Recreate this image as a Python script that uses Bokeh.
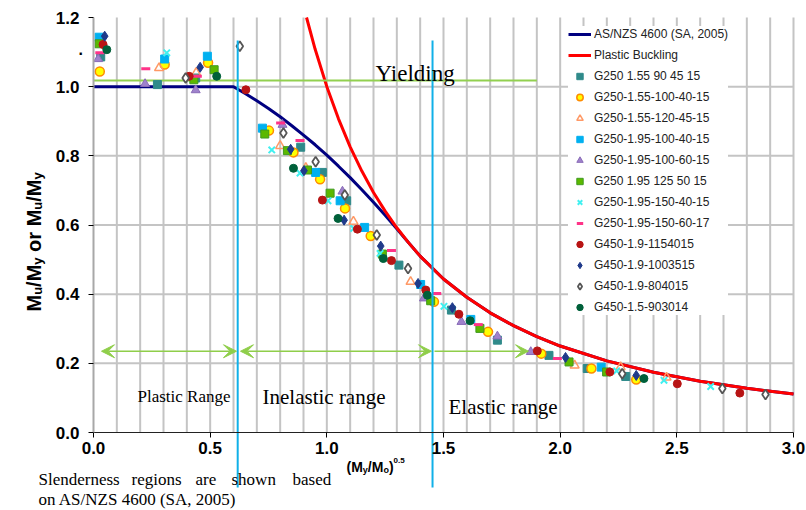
import math
from bokeh.plotting import figure
from bokeh.models import Range1d, FixedTicker, Label, Arrow, VeeHead, NumeralTickFormatter
from bokeh.embed import file_html
from bokeh.resources import INLINE

# ---------------- data ----------------
asnzs_x = [0.0, 0.6, 0.65, 0.7, 0.75, 0.8, 0.85, 0.9, 0.95, 1.0, 1.05, 1.1, 1.15, 1.2, 1.25, 1.3, 1.336,
           1.4, 1.5, 1.6, 1.7, 1.8, 1.9, 2.0, 2.2, 2.4, 2.6, 2.8, 3.0]
asnzs_y = [1.0, 1.0, 0.980, 0.959, 0.937, 0.913, 0.887, 0.860, 0.832, 0.802, 0.770, 0.737, 0.702, 0.666, 0.628, 0.589, 0.560,
           0.510, 0.444, 0.391, 0.346, 0.309, 0.277, 0.250, 0.207, 0.174, 0.148, 0.128, 0.111]

buck_x = [0.913, 0.95, 1.0, 1.05, 1.1, 1.15, 1.2, 1.25, 1.3, 1.35, 1.4, 1.5, 1.6, 1.7, 1.8, 1.9, 2.0, 2.2, 2.4, 2.6, 2.8, 3.0]
buck_y = [1.200, 1.108, 1.000, 0.907, 0.826, 0.756, 0.694, 0.640, 0.592, 0.549, 0.510, 0.444, 0.391, 0.346, 0.309, 0.277,
          0.250, 0.207, 0.174, 0.148, 0.128, 0.111]

yield_x = [0.0, 1.9]
yield_y = [1.018, 1.018]

region_bounds = [0.618, 1.453]

s1_x = [0.031, 0.274, 0.438, 0.888, 0.981, 1.085, 1.309, 1.534, 1.731, 1.952, 2.116, 2.281]
s1_y = [1.086, 1.006, 1.025, 0.825, 0.752, 0.670, 0.484, 0.354, 0.267, 0.223, 0.185, 0.162]
s2_x = [0.027, 0.305, 0.491, 0.752, 0.857, 0.971, 1.078, 1.188, 1.459, 1.691, 1.919, 2.134, 2.326]
s2_y = [1.044, 1.064, 1.069, 0.873, 0.810, 0.732, 0.648, 0.568, 0.378, 0.291, 0.228, 0.185, 0.153]
s3_x = [0.281, 0.440, 0.800, 0.910, 1.114, 1.359, 2.062, 2.259, 2.456]
s3_y = [1.054, 1.040, 0.829, 0.765, 0.610, 0.436, 0.194, 0.189, 0.159]
s4_x = [0.024, 0.305, 0.488, 0.724, 0.952, 1.057, 1.162, 1.402, 1.617, 2.176]
s4_y = [1.143, 1.080, 1.088, 0.880, 0.752, 0.670, 0.593, 0.428, 0.327, 0.189]
s5_x = [0.020, 0.221, 0.438, 0.810, 1.067, 1.416, 1.577, 1.731, 1.874]
s5_y = [1.080, 1.008, 0.990, 0.890, 0.697, 0.388, 0.320, 0.278, 0.233]
s6_x = [0.024, 0.430, 0.517, 0.734, 0.831, 0.917, 1.014, 1.238, 1.445, 1.656, 2.038, 2.199]
s6_y = [1.124, 1.020, 1.049, 0.863, 0.815, 0.759, 0.692, 0.516, 0.381, 0.301, 0.204, 0.175]
s7_x = [0.314, 0.764, 0.885, 1.005, 1.115, 1.228, 1.502, 2.242, 2.445, 2.645]
s7_y = [1.098, 0.817, 0.750, 0.670, 0.590, 0.518, 0.365, 0.178, 0.151, 0.133]
s8_x = [0.027, 0.224, 0.445, 0.802, 0.885, 1.277, 1.471, 1.649, 1.988]
s8_y = [1.098, 1.052, 1.030, 0.895, 0.844, 0.526, 0.402, 0.312, 0.214]
s9_x = [0.041, 0.410, 0.653, 0.981, 1.131, 1.277, 1.424, 1.566, 1.902, 2.213, 2.502, 2.770]
s9_y = [1.122, 1.030, 0.991, 0.672, 0.588, 0.497, 0.412, 0.342, 0.236, 0.175, 0.141, 0.114]
s10_x = [0.048, 0.457, 0.845, 0.902, 1.074, 1.231, 1.391, 1.538, 2.023, 2.326]
s10_y = [1.146, 1.056, 0.819, 0.757, 0.614, 0.539, 0.431, 0.361, 0.217, 0.165]
s11_x = [0.395, 0.627, 0.814, 0.952, 1.077, 1.214, 1.348, 2.266, 2.695, 2.880]
s11_y = [1.025, 1.117, 0.866, 0.783, 0.687, 0.571, 0.474, 0.170, 0.127, 0.110]
s12_x = [0.057, 0.528, 0.857, 1.048, 1.242, 1.431, 1.614, 2.359]
s12_y = [1.107, 1.030, 0.764, 0.619, 0.503, 0.397, 0.323, 0.156]

series_names = ["G250 1.55 90 45 15", "G250-1.55-100-40-15", "G250-1.55-120-45-15", "G250-1.95-100-40-15",
                "G250-1.95-100-60-15", "G250 1.95 125 50 15", "G250-1.95-150-40-15", "G250-1.95-150-60-17",
                "G450-1.9-1154015", "G450-1.9-1003515", "G450-1.9-804015", "G450-1.5-903014"]

x_ticks = [0.0, 0.5, 1.0, 1.5, 2.0, 2.5, 3.0]
y_ticks = [0.0, 0.2, 0.4, 0.6, 0.8, 1.0, 1.2]
x_grid = [round(0.1 * i, 1) for i in range(1, 31)]
y_grid = [0.2, 0.4, 0.6, 0.8, 1.0]

# ---------------- figure ----------------
W, H = 806, 510
FL, FR, FT, FB = 93, 793, 17, 432   # data area edges in picture pixels
XMAX, YMAX = 3.0, 1.2

def dx(px):
    return (px - FL) / (FR - FL) * XMAX

def dy(py):
    return (FB - py) / (FB - FT) * YMAX

p = figure(width=W, height=H, x_range=Range1d(dx(0), dx(W)), y_range=Range1d(dy(H), dy(0)),
           min_border=0, output_backend="svg", toolbar_location=None)
p.outline_line_color = None
p.background_fill_color = "white"
p.border_fill_color = "white"
p.xgrid.visible = False
p.ygrid.visible = False

# grid lines limited to the data area
grid_col = "#c4c4c4"
p.segment(x0=x_grid, y0=[0.0] * len(x_grid), x1=x_grid, y1=[YMAX] * len(x_grid), line_color=grid_col, line_width=2)
p.segment(x0=[0.0] * len(y_grid), y0=y_grid, x1=[XMAX] * len(y_grid), y1=y_grid, line_color=grid_col, line_width=2)

p.xaxis.fixed_location = 0.0
p.yaxis.fixed_location = 0.0
p.xaxis.bounds = (0.0, XMAX)
p.yaxis.bounds = (0.0, YMAX)
p.xaxis.ticker = FixedTicker(ticks=x_ticks)
p.yaxis.ticker = FixedTicker(ticks=y_ticks)
p.xaxis.formatter = NumeralTickFormatter(format="0.0")
p.yaxis.formatter = NumeralTickFormatter(format="0.0")
for ax in (p.xaxis, p.yaxis):
    ax.major_label_text_font = "Liberation Sans"
    ax.major_label_text_font_style = "bold"
    ax.major_label_text_font_size = "17px"
    ax.major_label_text_color = "black"
    ax.major_tick_in = 0
    ax.major_tick_out = 5
    ax.major_tick_line_color = "black"
    ax.minor_tick_line_color = None
p.xaxis.axis_line_color = "#222222"
p.yaxis.axis_line_color = "#a8a8a8"
p.yaxis.axis_line_width = 2
p.xaxis.major_label_standoff = 4
p.yaxis.major_label_standoff = 9

# ---------------- lines ----------------
p.line(asnzs_x, asnzs_y, line_color="#000080", line_width=3, legend_label="AS/NZS 4600 (SA, 2005)")
p.line(buck_x, buck_y, line_color="#ff0000", line_width=3, legend_label="Plastic Buckling")
p.line(yield_x, yield_y, line_color="#92d050", line_width=2)

# ---------------- scatter series ----------------
styles = [
    dict(marker="square", size=8, fill_color="#2f8a8a", line_color="#2f8a8a"),
    dict(marker="circle", size=9, fill_color="#ffff00", line_color="#ff8c00", line_width=1.5),
    dict(marker="triangle", size=9, fill_color=None, line_color="#ff9966", line_width=1.5),
    dict(marker="square", size=8, fill_color="#00b0f0", line_color="#00b0f0"),
    dict(marker="triangle", size=9, fill_color="#9f82cc", line_color="#8a6cb8"),
    dict(marker="square", size=8, fill_color="#5cb800", line_color="#3f9a20"),
    dict(marker="x", size=9, line_color="#40f0f0", line_width=2),
    dict(marker="dash", size=9, line_color="#ff3388", line_width=3),
    dict(marker="circle", size=8, fill_color="#b81414", line_color="#b81414"),
    dict(marker="diamond", size=10, fill_color="#1f3a8a", line_color="#1f3a8a"),
    dict(marker="diamond", size=10, fill_color="white", line_color="#555555", line_width=1.8),
    dict(marker="circle", size=8, fill_color="#00603a", line_color="#00603a"),
]
xs = [s1_x, s2_x, s3_x, s4_x, s5_x, s6_x, s7_x, s8_x, s9_x, s10_x, s11_x, s12_x]
ys = [s1_y, s2_y, s3_y, s4_y, s5_y, s6_y, s7_y, s8_y, s9_y, s10_y, s11_y, s12_y]
for name, sx_, sy_, st in zip(series_names, xs, ys, styles):
    p.scatter(sx_, sy_, legend_label=name, **st)

# ---------------- region markers ----------------
p.segment(x0=region_bounds, y0=[dy(40)] * 2, x1=region_bounds, y1=[dy(487)] * 2,
          line_color="#10b0e8", line_width=2)

arrow_y = 0.235
green = "#8fce4a"
def head():
    return VeeHead(size=13, fill_color=green, line_color=green)
p.add_layout(Arrow(x_start=dx(101), y_start=arrow_y, x_end=dx(236), y_end=arrow_y,
                   start=head(), end=head(), line_color=green, line_width=1.5))
p.add_layout(Arrow(x_start=dx(240), y_start=arrow_y, x_end=dx(431), y_end=arrow_y,
                   start=head(), end=head(), line_color=green, line_width=1.5))
p.add_layout(Arrow(x_start=dx(434), y_start=arrow_y, x_end=dx(528), y_end=arrow_y,
                   end=head(), line_color=green, line_width=1.5))

# ---------------- texts ----------------
def txt(s, px, py, size, font="Liberation Serif", style="normal", angle=0.0, color="black"):
    p.add_layout(Label(x=dx(px), y=dy(py), text=s, text_font=font, text_font_size=size,
                       text_font_style=style, text_color=color, text_baseline="alphabetic",
                       text_align="left", angle=angle))

txt("Yielding", 375, 73, "23px")
txt("Plastic Range", 137, 396, "17px")
txt("Inelastic range", 262, 396, "21px")
txt("Elastic range", 448, 406, "21px")
txt(".", 78, 48, "16px", font="Liberation Sans", style="bold")

# bottom note (justified first line)
for w, px in [("Slenderness", 38), ("regions", 131), ("are", 195), ("shown", 231), ("based", 292)]:
    txt(w, px, 479, "17px")
txt("on AS/NZS 4600 (SA, 2005)", 38, 499, "17px")

# x axis title (M_y/M_o)^0.5
bx0 = 346
for s, adv, size, off in [("(M", 1.166, 14, 0), ("y", 0.556, 9, 3), ("/M", 1.111, 14, 0),
                          ("o", 0.611, 9, 3), (")", 0.333, 14, 0), ("0.5", 1.39, 8, -6)]:
    txt(s, bx0, 466 + off, f"{size}px", font="Liberation Sans", style="bold")
    bx0 += adv * size

# y axis title M_u/M_y or M_u/M_y (rotated, reads bottom to top)
by0 = 311
for s, adv, size, off, gap in [("M", 0.833, 20, 0, 0.0), ("u", 0.611, 13, 4, 0.0), ("/M", 1.111, 20, 0, 0.0),
                               ("y", 0.556, 13, 4, 0.0), ("or M", 2.111, 20, 0, 0.278), ("u", 0.611, 13, 4, 0.0),
                               ("/M", 1.111, 20, 0, 0.0), ("y", 0.556, 13, 4, 0.0)]:
    by0 -= gap * 20
    txt(s, 33 + off, by0, f"{size}px", font="Liberation Sans", style="bold", angle=math.pi / 2)
    by0 -= adv * size

# ---------------- legend ----------------
lg = p.legend[0]
lg.location = (568, H - 315)
lg.padding = 3
lg.spacing = 5
lg.glyph_width = 23
lg.glyph_height = 16
lg.label_height = 16
lg.label_standoff = 3
lg.margin = 0
lg.label_text_font = "Liberation Sans"
lg.label_text_font_size = "12px"
lg.label_text_color = "#222222"
lg.border_line_color = None
lg.background_fill_color = "white"
lg.background_fill_alpha = 1.0

open("out.html", "w").write(file_html(p, INLINE))
